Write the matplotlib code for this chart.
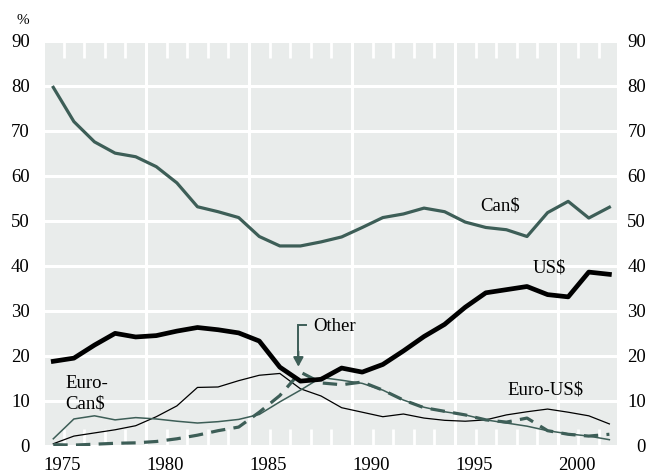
import numpy as np
import matplotlib
matplotlib.use('Agg')
import matplotlib.pyplot as plt
from matplotlib.ticker import MultipleLocator

# ============================= #
# data   #
# ============================= #
years = list(range(1975, 2003))

can = [79.6, 72.0, 67.5, 65.0, 64.2, 62.0, 58.4, 53.1, 52.0, 50.7,
       46.5, 44.4, 44.4, 45.3, 46.4, 48.5, 50.7, 51.5, 52.8, 52.0,
       49.7, 48.5, 48.0, 46.5, 51.8, 54.3, 50.6, 53.0]
usd = [18.8, 19.5, 22.4, 25.0, 24.2, 24.5, 25.5, 26.3, 25.8, 25.1,
       23.3, 17.5, 14.4, 14.8, 17.3, 16.4, 18.1, 21.1, 24.3, 27.0,
       30.8, 34.0, 34.7, 35.4, 33.6, 33.1, 38.6, 38.1]
other = [0.3, 0.2, 0.4, 0.6, 0.7, 1.0, 1.6, 2.4, 3.4, 4.2,
         7.5, 11.2, 16.4, 14.0, 13.6, 14.2, 12.4, 10.2, 8.5, 7.7,
         6.9, 5.8, 5.3, 6.2, 3.4, 2.6, 2.2, 2.6]
euro_can = [1.6, 6.0, 6.7, 5.8, 6.3, 6.0, 5.5, 5.1, 5.4, 5.9,
            7.0, 9.8, 12.4, 15.2, 14.6, 13.9, 12.4, 10.2, 8.6, 7.6,
            6.9, 5.8, 5.1, 4.4, 3.4, 2.7, 2.2, 1.4]
euro_us = [0.5, 2.2, 2.9, 3.6, 4.5, 6.5, 8.9, 13.0, 13.1, 14.5,
           15.7, 16.1, 12.7, 11.1, 8.5, 7.5, 6.5, 7.1, 6.2, 5.7,
           5.5, 5.8, 6.9, 7.6, 8.2, 7.5, 6.7, 4.9]

y_ticks = list(range(0, 100, 10))
x_ticks = [1975, 1980, 1985, 1990, 1995, 2000]

# styles
green = '#3d5e57'
bg = '#e9eceb'
plt.rcParams['font.family'] = ['Liberation Serif', 'DejaVu Serif']
fs = 13.5

fig = plt.figure(figsize=(6.5, 4.76), dpi=100)
ax = fig.add_axes([43 / 650, 30 / 476, 574 / 650, 405.5 / 476])
ax.set_facecolor(bg)
for s in ax.spines.values():
    s.set_visible(False)

# annual values plotted at mid-year
x = np.array(years) + 0.5

ax.plot(x, euro_us, color='black', lw=0.9, zorder=3)
ax.plot(x, euro_can, color=green, lw=1.1, zorder=3)
ax.plot(x, other, color=green, lw=2.3, dashes=(4.5, 2.6), zorder=4)
ax.plot(x, can, color=green, lw=2.3, zorder=5)
ax.plot(x, usd, color='black', lw=3.4, zorder=6)

ax.set_xlim(1975, 2002.87)
ax.set_ylim(0, 90)

# grid: white lines, year ticks as short white marks top & bottom
ax.set_xticks(x_ticks)
ax.set_yticks(y_ticks)
ax.xaxis.set_minor_locator(MultipleLocator(1))
ax.grid(True, which='major', color='white', lw=2.2)
ax.set_axisbelow(True)
ax.tick_params(axis='x', which='major', length=0, pad=8, labelsize=fs)
ax.tick_params(axis='x', which='minor', direction='in', length=12,
               width=2, color='white', top=True, bottom=True)
ax.tick_params(axis='y', which='major', length=0, pad=9.5, labelsize=fs)
for lab in ax.get_xticklabels():
    lab.set_horizontalalignment('left')

# right-hand scale (labels right-aligned near the figure edge)
ax2 = ax.twinx()
ax2.set_ylim(0, 90)
ax2.set_yticks(y_ticks)
for s in ax2.spines.values():
    s.set_visible(False)
ax2.tick_params(axis='y', length=0, pad=20.9, labelsize=fs)
for lab in ax2.get_yticklabels():
    lab.set_horizontalalignment('right')

fig.text(29 / 650, 1 - 21 / 476, '%', ha='right', va='center', fontsize=11)

# labels
ax.text(1997.2, 53.3, 'Can$', ha='center', va='center', fontsize=fs)
ax.text(1999.6, 39.6, 'US$', ha='center', va='center', fontsize=fs)
ax.text(1999.4, 12.4, 'Euro-US$', ha='center', va='center', fontsize=fs)
ax.text(1976.1, 11.6, 'Euro-\nCan$', ha='left', va='center', fontsize=fs,
        linespacing=1.2)
ax.text(1988.1, 26.5, 'Other', ha='left', va='center', fontsize=fs)

# bracket arrow for "Other"
ax.plot([1987.4, 1987.4, 1987.75], [20, 26.8, 26.8], color=green, lw=1.4,
        solid_joinstyle='miter', zorder=7)
ax.annotate('', xy=(1987.4, 17.6), xytext=(1987.4, 21),
            arrowprops=dict(arrowstyle='-|>,head_length=0.55,head_width=0.3',
                            color=green, lw=1.4, shrinkA=0, shrinkB=0),
            zorder=7)

plt.savefig('out.png', dpi=100)
